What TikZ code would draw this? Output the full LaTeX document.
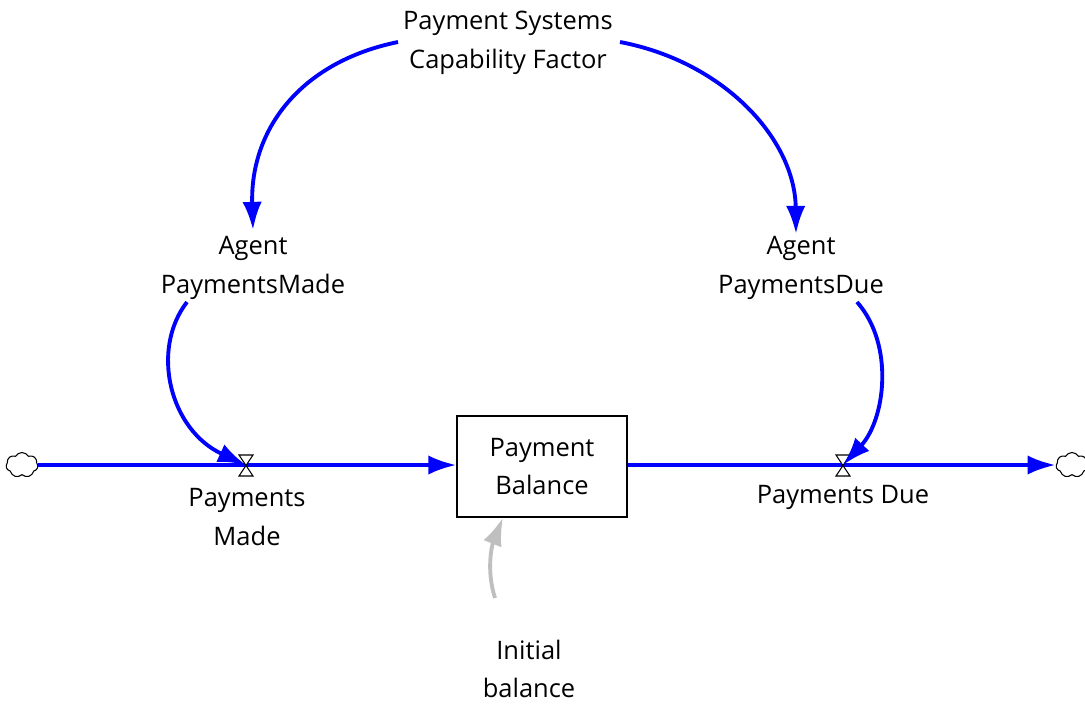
\documentclass[tikz,border=0pt]{standalone}
\usepackage{fontspec}
\setmainfont{Open Sans}
\usetikzlibrary{arrows.meta,shapes.symbols}
\begin{document}
\begin{tikzpicture}[x=0.02cm,y=-0.02cm,
  lbl/.style={align=center,font=\fontsize{14.5pt}{22pt}\selectfont,inner sep=1pt},
  tip/.style={-{Latex[length=16pt,width=11pt]}},
  link/.style={blue,line width=2.2pt,tip},
  initlink/.style={black!25,line width=2.2pt,tip},
  flowpipe/.style={blue,line width=2.3pt,tip},
  stockbox/.style={draw,line width=0.6pt,minimum width=170*0.02cm,minimum height=101*0.02cm,align=center,font=\fontsize{14.5pt}{22pt}\selectfont},
  sink/.style={cloud,cloud puffs=7,cloud puff arc=120,draw,line width=0.6pt,minimum width=32*0.02cm,minimum height=25*0.02cm,inner sep=0pt,fill=white},
  valveshape/.style={draw,line width=0.6pt,fill=white}]
\useasboundingbox (0,0) rectangle (1085,704);
% nodes
\node[lbl] (cap) at (508,43) {Payment Systems\\Capability Factor};
\node[lbl] (apm) at (253,268) {Agent\\PaymentsMade};
\node[lbl] (apd) at (801,268) {Agent\\PaymentsDue};
\node[stockbox] (bal) at (542,466.5) {Payment\\Balance};
\node[lbl] (pm) at (247,517) {Payments\\Made};
\node[lbl] (pd) at (843,497) {Payments Due};
\node[lbl] (ib) at (529,669) {Initial\\balance};
\node[sink] (c1) at (22,465) {};
\node[sink] (c2) at (1072,465) {};
\coordinate (v1) at (246,465);
\coordinate (v2) at (843,465);
% flows
\draw[flowpipe] (c1.east) -- (c1.east -| bal.west);
\draw[flowpipe] (c2.west -| bal.east) -- (c2.west);
% valves
\foreach \v in {v1,v2}{
  \draw[valveshape] ([shift={(-7,-10)}]\v) -- ([shift={(7,-10)}]\v) -- ([shift={(-7,11)}]\v) -- ([shift={(7,11)}]\v) -- cycle;
}
% links
\draw[link] (398,42) coordinate (s1) .. controls (300,62) and (250,130) .. (253,230) coordinate (e1);
\draw[link] (620,42) coordinate (s2) .. controls (725,62) and (795,140) .. (796,234) coordinate (e2);
\draw[link] (187,302) coordinate (s3) .. controls (150,350) and (170,430) .. (v1);
\draw[link] (857,302) coordinate (s4) .. controls (895,345) and (885,420) .. (v2);
\draw[initlink] (495,598) coordinate (s5) .. controls (486,570) and (492,545) .. (bal.south -| 503,0);
\end{tikzpicture}
\end{document}
